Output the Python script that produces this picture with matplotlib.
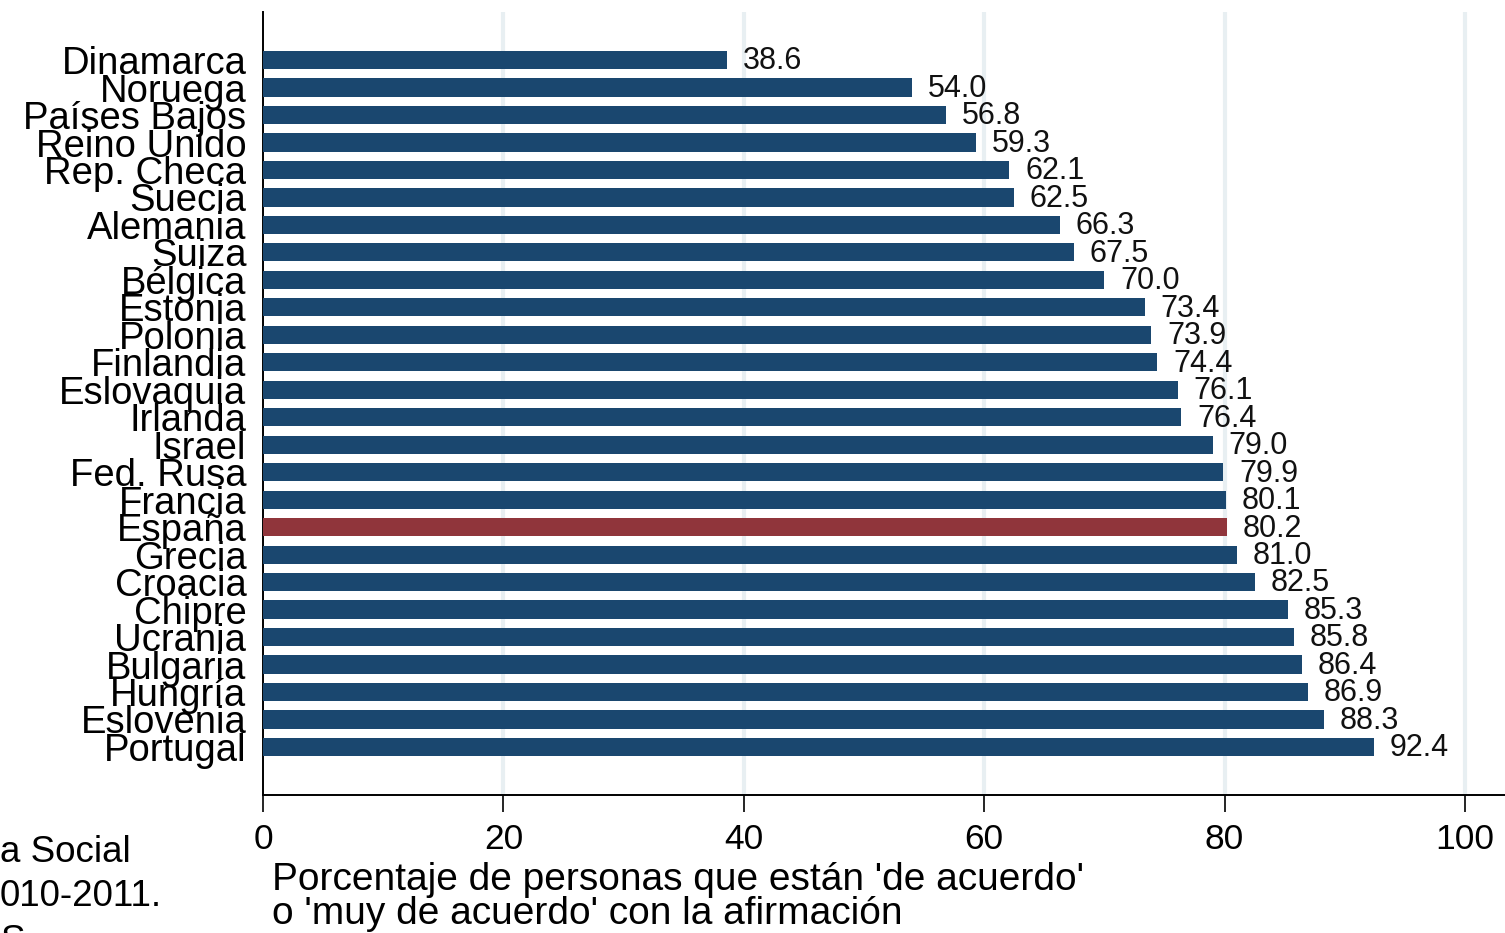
import numpy as np
import matplotlib.pyplot as plt

# Datos
paises = ["Dinamarca", "Noruega", "Países Bajos", "Reino Unido", "Rep. Checa",
          "Suecia", "Alemania", "Suiza", "Bélgica", "Estonia", "Polonia",
          "Finlandia", "Eslovaquia", "Irlanda", "Israel", "Fed. Rusa", "Francia",
          "España", "Grecia", "Croacia", "Chipre", "Ucrania", "Bulgaria",
          "Hungría", "Eslovenia", "Portugal"]
valores = [38.6, 54.0, 56.8, 59.3, 62.1, 62.5, 66.3, 67.5, 70.0, 73.4, 73.9,
           74.4, 76.1, 76.4, 79.0, 79.9, 80.1, 80.2, 81.0, 82.5, 85.3, 85.8,
           86.4, 86.9, 88.3, 92.4]
destacado = "España"
xticks = [0, 20, 40, 60, 80, 100]

azul = "#1a476f"
rojo = "#90353b"

plt.rcParams['font.family'] = ['Liberation Sans', 'DejaVu Sans']

fig = plt.figure(figsize=(15.05, 9.33), dpi=100)
ax = fig.add_axes([263 / 1505, 1 - 795 / 933, 1 - 263 / 1505, (795 - 12) / 933])

y = np.arange(len(paises))
colores = [rojo if p == destacado else azul for p in paises]
ax.barh(y, valores, height=0.66, color=colores, zorder=3)

for yi, v in zip(y, valores):
    ax.text(v + 1.3, yi + 0.05, f"{v:.1f}", va="center", ha="left", fontsize=22,
            color="#111111", zorder=4)

for t in xticks[1:]:
    ax.axvline(t, color="#e8eff2", lw=3, zorder=1)

ax.set_xlim(0, 103.33)
ax.set_ylim(len(paises) - 1 + 1.75, -1.75)
ax.set_yticks(y)
ax.set_yticklabels(paises, fontsize=27.5)
ax.tick_params(axis="y", length=0, pad=12)
ax.set_xticks(xticks)
ax.tick_params(axis="x", length=12, width=1.2, labelsize=25.5, pad=8)

for s in ["top", "right"]:
    ax.spines[s].set_visible(False)
ax.spines["left"].set_linewidth(1.4)
ax.spines["bottom"].set_linewidth(1.4)

fig.text(272 / 1505, 1 - 897 / 933,
         "Porcentaje de personas que están 'de acuerdo'\no 'muy de acuerdo' con la afirmación",
         fontsize=28, va="center", ha="left", linespacing=0.9)

fig.text(0, 1 - 852 / 933, "a Social", fontsize=26.5, va="center", ha="left")
fig.text(0, 1 - 897 / 933, "010-2011.", fontsize=26.5, va="center", ha="left")
fig.text(0, 1 - 942 / 933, "S", fontsize=26.5, va="center", ha="left")

fig.savefig("out.png", dpi=100)
